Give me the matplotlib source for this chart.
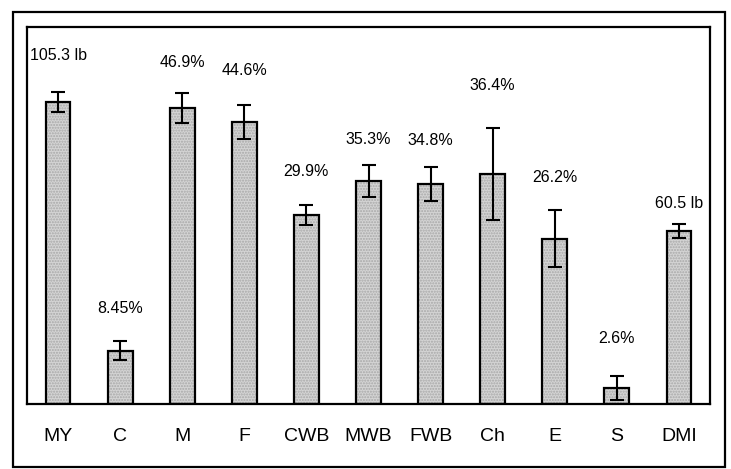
import matplotlib.pyplot as plt
from matplotlib.patches import Rectangle

# trait means; MY and DMI are in lb, the rest are percentages
traits = ['MY', 'C', 'M', 'F', 'CWB', 'MWB', 'FWB', 'Ch', 'E', 'S', 'DMI']
values = [105.3, 8.45, 46.9, 44.6, 29.9, 35.3, 34.8, 36.4, 26.2, 2.6, 60.5]
units = ['lb', '%', '%', '%', '%', '%', '%', '%', '%', '%', 'lb']
labels = ['105.3 lb', '8.45%', '46.9%', '44.6%', '29.9%', '35.3%',
          '34.8%', '36.4%', '26.2%', '2.6%', '60.5 lb']
errors = [1.6, 1.5, 2.4, 2.7, 1.6, 2.5, 2.7, 7.3, 4.5, 1.9, 1.1]

# gap between error bar top and value label, in points
label_gap = [21, 18, 16, 20, 19, 13, 14, 25, 18, 21, 9]

LB_TO_KG = 2.2046
heights = [v / LB_TO_KG if u == 'lb' else v for v, u in zip(values, units)]

plt.rcParams['font.family'] = ['Liberation Sans', 'DejaVu Sans']

fig = plt.figure(figsize=(7.31, 4.69), dpi=100)
W, H = 731, 469
ax = fig.add_axes([27 / W, 1 - 404 / H, (710 - 27) / W, (404 - 27) / H])

x = range(len(traits))
# stippled fill first, then the black outline on top
ax.bar(x, heights, width=0.4, color='#d4d4d4', edgecolor='#a8a8a8',
       linewidth=0, hatch='......', zorder=2)
ax.bar(x, heights, width=0.4, fill=False, edgecolor='black',
       linewidth=1.6, zorder=2.5)
ax.errorbar(x, heights, yerr=errors, fmt='none', ecolor='black',
            elinewidth=1.5, capsize=5, capthick=1.5, zorder=3)

for i, (h, e, lab, g) in enumerate(zip(heights, errors, labels, label_gap)):
    ax.annotate(lab, (i, h + e), xytext=(0, g), textcoords='offset points',
                ha='center', va='bottom', fontsize=11.5)

ax.set_xlim(-0.5, len(traits) - 0.5)
ax.set_ylim(0, 59.7)
ax.set_yticks([])
ax.set_xticks(list(x))
ax.set_xticklabels(traits, fontsize=14)
ax.tick_params(axis='x', length=0, pad=17)
for s in ax.spines.values():
    s.set_linewidth(1.6)

# outer frame around the whole figure
fig.patches.append(Rectangle((13 / W, 1 - 467 / H), (725 - 13) / W, (467 - 12) / H,
                             transform=fig.transFigure, fill=False,
                             edgecolor='black', linewidth=1.6))

fig.savefig('out.png', dpi=100)
